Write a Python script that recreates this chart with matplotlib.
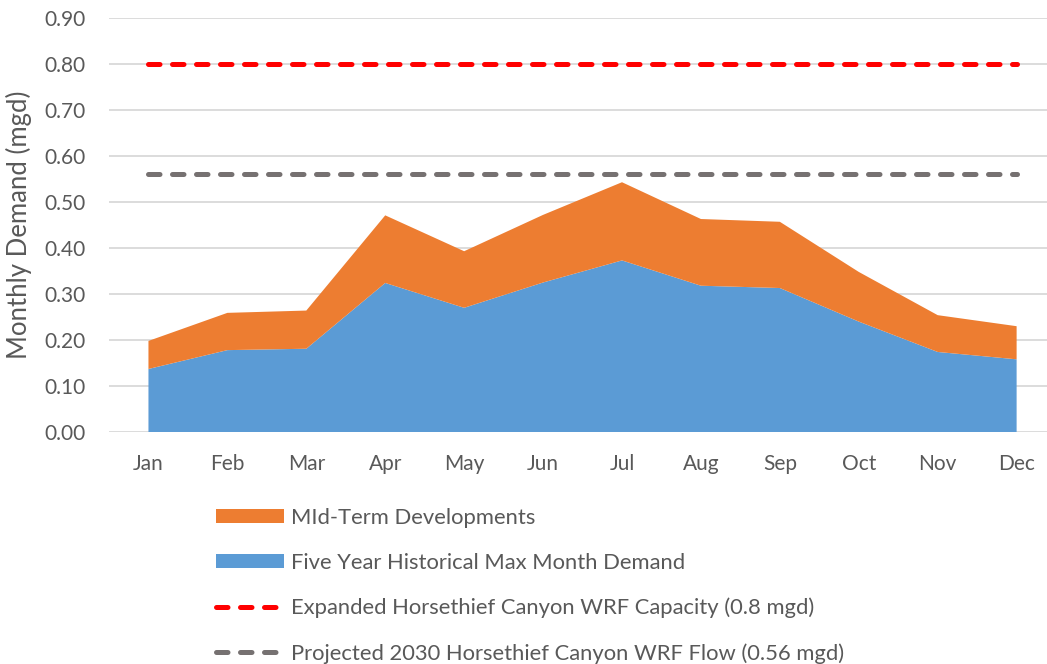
import numpy as np
import matplotlib
matplotlib.use("Agg")
import matplotlib.pyplot as plt

# Data (mgd)
months = ["Jan", "Feb", "Mar", "Apr", "May", "Jun",
          "Jul", "Aug", "Sep", "Oct", "Nov", "Dec"]
historical = [0.137, 0.178, 0.181, 0.324, 0.270, 0.325,
              0.373, 0.318, 0.313, 0.240, 0.174, 0.158]
mid_term = [0.061, 0.081, 0.083, 0.147, 0.123, 0.147,
            0.170, 0.145, 0.144, 0.108, 0.080, 0.072]
capacity = 0.80
projected_2030 = 0.56

label_mid = "MId-Term Developments"
label_hist = "Five Year Historical Max Month Demand"
label_cap = "Expanded Horsethief Canyon WRF Capacity (0.8 mgd)"
label_proj = "Projected 2030 Horsethief Canyon WRF Flow (0.56 mgd)"

plt.rcParams['font.family'] = ['Lato', 'DejaVu Sans']
text_col = "#595959"

fig = plt.figure(figsize=(10.47, 6.64), dpi=100)
ax = fig.add_axes([109/1047, 1 - 432/664, (1047 - 109)/1047, (432 - 18)/664])

x = np.arange(len(months))
ax.stackplot(x, historical, mid_term, colors=["#5B9BD5", "#ED7D31"],
             labels=[label_hist, label_mid], zorder=2)
ax.plot(x, [capacity] * len(x), color="#FF0000", lw=3.6, dashes=(2.3, 2.5),
        dash_capstyle="round", label=label_cap, zorder=3)
ax.plot(x, [projected_2030] * len(x), color="#767171", lw=3.6, dashes=(2.3, 2.5),
        dash_capstyle="round", label=label_proj, zorder=3)

ax.set_xlim(-0.5, 11.385)
ax.set_ylim(0, 0.9)
ax.set_xticks(x)
ax.set_xticklabels(months)
ax.set_yticks(np.arange(0, 0.91, 0.1))
ax.set_yticklabels([f"{v:.2f}" for v in np.arange(0, 0.91, 0.1)])
ax.tick_params(axis='both', length=0, labelsize=15, labelcolor=text_col)
ax.tick_params(axis='x', pad=16)
ax.tick_params(axis='y', pad=17)
ax.grid(axis='y', color="#D9D9D9", lw=1.3, zorder=0)
ax.set_axisbelow(True)
for s in ax.spines.values():
    s.set_visible(False)

fig.text(19/1047, 1 - 225/664, "Monthly Demand (mgd)", rotation=90,
         ha='center', va='center', fontsize=18.5, color=text_col)

# Legend below the plot, orange first
h, l = ax.get_legend_handles_labels()
order = [l.index(label_mid), l.index(label_hist), l.index(label_cap), l.index(label_proj)]
leg = fig.legend([h[i] for i in order], [l[i] for i in order],
                 loc='upper left', bbox_to_anchor=(216/1047, 1 - 508/664),
                 frameon=False, fontsize=15.8, handlelength=3.1, handleheight=0.6,
                 handletextpad=0.32, labelspacing=1.13, borderpad=0, borderaxespad=0)
for t in leg.get_texts():
    t.set_color(text_col)

fig.savefig("out.png", dpi=100)
